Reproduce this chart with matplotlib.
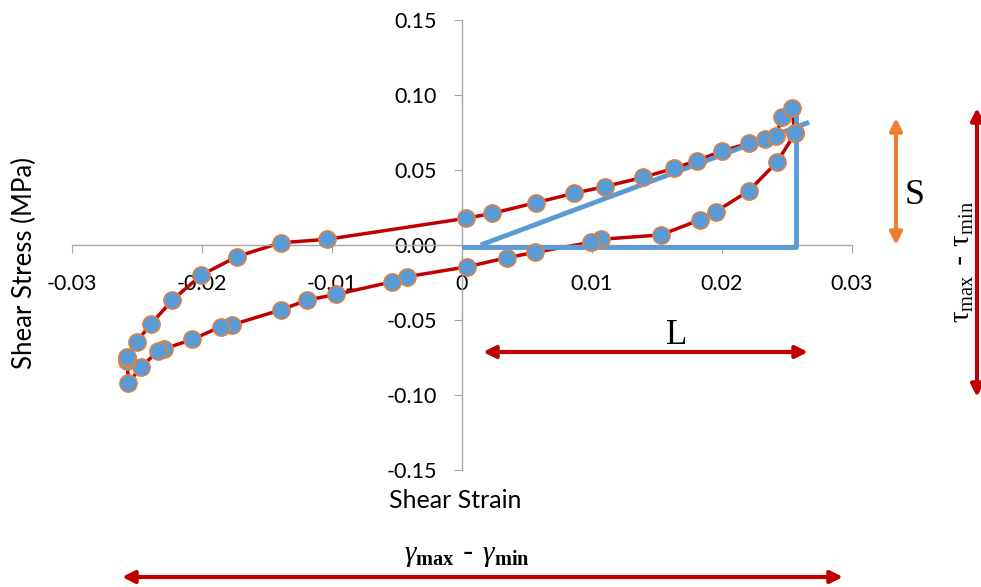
import matplotlib
matplotlib.use("Agg")
import matplotlib.pyplot as plt

plt.rcParams['mathtext.fontset'] = 'custom'
plt.rcParams['mathtext.rm'] = 'Liberation Serif'
plt.rcParams['mathtext.it'] = 'Liberation Serif:italic'
plt.rcParams['mathtext.bf'] = 'Liberation Serif:bold'

# hysteresis loop, in drawing order (closed)
strain = [0.02562, 0.02426, 0.02208, 0.01951, 0.01828, 0.01528, 0.01067, 0.0099,
          0.00562, 0.00349, 0.0004, -0.0042, -0.00536, -0.00967, -0.0119, -0.01395,
          -0.01772, -0.01856, -0.02074, -0.02292, -0.02336, -0.02472, -0.02567,
          -0.02574, -0.02578, -0.02574, -0.02503, -0.02395, -0.02228, -0.02005,
          -0.01733, -0.01395, -0.01036, 0.0003, 0.00233, 0.00567, 0.00862, 0.01097,
          0.01392, 0.01631, 0.01805, 0.02003, 0.02208, 0.02331, 0.02413, 0.02464,
          0.02536, 0.02562]
stress = [0.0745, 0.0556, 0.0362, 0.0222, 0.0167, 0.0067, 0.0038, 0.0018,
          -0.0049, -0.0084, -0.0145, -0.0211, -0.0245, -0.0329, -0.0367, -0.0433,
          -0.0533, -0.0545, -0.0629, -0.0693, -0.0705, -0.0816, -0.0922,
          -0.0770, -0.0755, -0.0745, -0.0645, -0.0529, -0.0367, -0.0200,
          -0.0078, 0.0015, 0.0038, 0.0178, 0.0211, 0.0282, 0.0345, 0.0389,
          0.0451, 0.0511, 0.0562, 0.0627, 0.0678, 0.0705, 0.0727, 0.0855,
          0.0911, 0.0745]

# triangle drawn over the loop (L / S construction)
tri_x = [0.00144, 0.0267]
tri_y = [0.0, 0.0818]
base_x = [0.0, 0.0257, 0.0257]
base_y = [-0.001, -0.001, 0.088]

xticks = [-0.03, -0.02, -0.01, 0, 0.01, 0.02, 0.03]
xlabels = ['-0.03', '-0.02', '-0.01', '0', '0.01', '0.02', '0.03']
yticks = [-0.15, -0.10, -0.05, 0.0, 0.05, 0.10, 0.15]
ylabels = ['-0.15', '-0.10', '-0.05', '0.00', '0.05', '0.10', '0.15']

red = '#C00000'
blue = '#5B9BD5'
orange = '#ED7D31'
grey = '#A6A6A6'

fig = plt.figure(figsize=(9.81, 5.87), dpi=100)
ax = fig.add_axes([72 / 981, 117 / 587, 780 / 981, 450 / 587])

ax.plot(strain, stress, color=red, lw=2.5, zorder=2)
ax.plot(tri_x, tri_y, color=blue, lw=3.5, zorder=3, solid_capstyle='butt')
ax.plot(base_x, base_y, color=blue, lw=3.5, zorder=3, solid_capstyle='butt')
ax.plot(strain, stress, ls='none', marker='o', ms=12.5, mfc=blue, mec=orange,
        mew=1.0, zorder=4)

ax.set_xlim(-0.03, 0.03)
ax.set_ylim(-0.15, 0.15)
ax.spines['left'].set_position(('data', 0))
ax.spines['bottom'].set_position(('data', 0))
ax.spines['top'].set_visible(False)
ax.spines['right'].set_visible(False)
for s in ['left', 'bottom']:
    ax.spines[s].set_color(grey)
    ax.spines[s].set_linewidth(1.0)
ax.set_xticks(xticks)
ax.set_xticklabels(xlabels)
ax.set_yticks(yticks)
ax.set_yticklabels(ylabels)
ax.tick_params(axis='both', direction='out', length=6, color=grey,
               labelsize=15.5, labelcolor='black')
ax.tick_params(axis='x', pad=15)
ax.tick_params(axis='y', pad=12)
for lab in ax.get_xticklabels() + ax.get_yticklabels():
    lab.set_family('Lato')
ax.patch.set_alpha(0)

fig.text(24 / 981, 324 / 587, 'Shear Stress (MPa)', rotation=90, ha='center',
         va='center', fontsize=18.5, family='Lato')
fig.text(455 / 981, 87 / 587, 'Shear Strain', ha='center', va='center',
         fontsize=18, family='Lato')

def arrow(x0, y0, x1, y1, col):
    ax.annotate('', xy=(x1, y1), xytext=(x0, y0), xycoords='figure pixels',
                textcoords='figure pixels',
                arrowprops=dict(arrowstyle='<|-|>', color=col, lw=3,
                                mutation_scale=18, shrinkA=0, shrinkB=0))

arrow(483, 235, 808, 235, red)
arrow(896, 469, 896, 342, orange)
arrow(977, 479, 977, 190, red)
arrow(122, 10, 843, 10, red)

fig.text(677 / 981, 252 / 587, 'L', ha='center', va='center', fontsize=25,
         family='Liberation Serif')
fig.text(915 / 981, 392 / 587, 'S', ha='center', va='center', fontsize=26,
         family='Liberation Serif')
fig.text(962 / 981, 325 / 587, r'$\mathrm{τ}_{\mathrm{max}}$ - $\mathrm{τ}_{\mathrm{min}}$',
         rotation=90, ha='center', va='center', fontsize=21)
fig.text(467 / 981, 32 / 587, r'$\gamma_{\mathbf{max}}$ - $\gamma_{\mathbf{min}}$',
         ha='center', va='center', fontsize=21)

fig.savefig('out.png', dpi=100)
